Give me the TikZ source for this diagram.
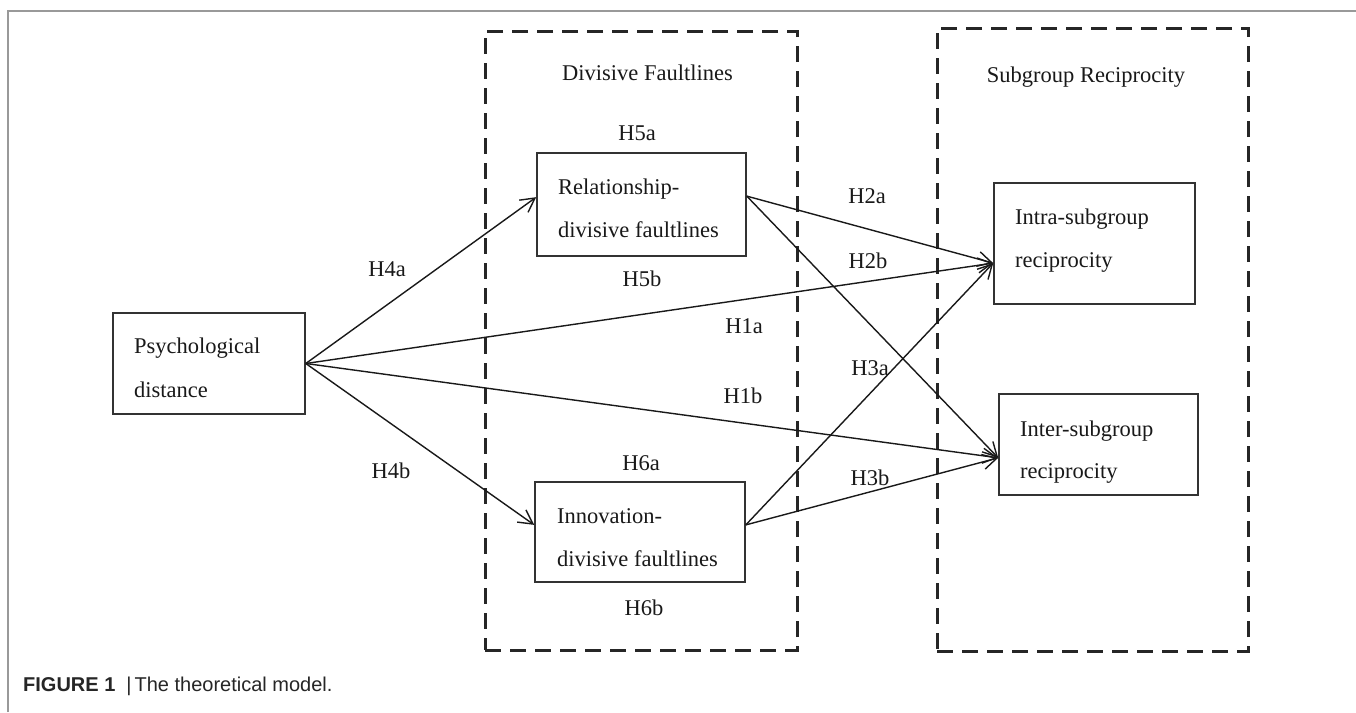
\documentclass[tikz,border=0pt]{standalone}
\usepackage{fontspec}
\setmainfont{Liberation Serif}
\newfontfamily\capfont{Liberation Sans}
\usetikzlibrary{arrows.meta,calc}
\begin{document}
\begin{tikzpicture}[x=1pt,y=-1pt,
 box/.style={draw=black!80, line width=1.6pt, inner sep=0pt},
 grp/.style={draw=black!85, line width=3pt, dash pattern=on 16pt off 9pt, inner sep=0pt},
 txt/.style={anchor=base west, inner sep=0pt, font=\fontsize{22.5}{26}\selectfont, text=black!90},
 lbl/.style={anchor=base, inner sep=0pt, font=\fontsize{22.5}{26}\selectfont, text=black!90},
 link/.style={draw=black!90, line width=1.4pt, -{Straight Barb[length=14pt,width=15pt]}},
]
\useasboundingbox (0,0) rectangle (1356,712);
\fill[white] (0,0) rectangle (1356,712);
\draw[black!40, line width=1.5pt] (8,712) |- (1356,11);

% group frames
\node[grp, minimum width=312pt, minimum height=619pt] (fault) at (641,340.5) {};
\node[grp, minimum width=311pt, minimum height=623pt] (recip) at (1092.5,339.5) {};
\node[lbl] (faulttitle) at (647.5,80) {Divisive Faultlines};
\node[lbl] (reciptitle) at (1086,82) {Subgroup Reciprocity};

% boxes
\node[box, minimum width=192pt, minimum height=101pt] (psych) at (209,363.5) {};
\node[box, minimum width=209pt, minimum height=103pt] (rel) at (641.5,204.5) {};
\node[box, minimum width=210pt, minimum height=100pt] (innov) at (640,532) {};
\node[box, minimum width=201pt, minimum height=121pt] (intra) at (1094.5,243.5) {};
\node[box, minimum width=199pt, minimum height=101pt] (inter) at (1098.5,444.5) {};

% box texts
\node[txt] (psychA) at (134,353) {Psychological};
\node[txt] (psychB) at (134,397) {distance};
\node[txt] (relA) at (558,194) {Relationship-};
\node[txt] (relB) at (558,237) {divisive faultlines};
\node[txt] (innovA) at (557,523) {Innovation-};
\node[txt] (innovB) at (557,566) {divisive faultlines};
\node[txt] (intraA) at (1015,224) {Intra-subgroup};
\node[txt] (intraB) at (1015,267) {reciprocity};
\node[txt] (interA) at (1020,436) {Inter-subgroup};
\node[txt] (interB) at (1020,478) {reciprocity};

% connector ends
\coordinate (relIn) at ($(rel.north west)!0.43!(rel.south west)$);
\coordinate (relOut) at ($(rel.north east)!0.42!(rel.south east)$);
\coordinate (innovIn) at ($(innov.north west)!0.43!(innov.south west)$);
\coordinate (innovOut) at ($(innov.north east)!0.43!(innov.south east)$);
\coordinate (intraIn) at ($(intra.north west)!0.66!(intra.south west)$);
\coordinate (interIn) at ($(inter.north west)!0.63!(inter.south west)$);

% connectors
\draw[link] (psych.east) -- (relIn);
\draw[link] (psych.east) -- (innovIn);
\draw[link] (psych.east) -- (intraIn);
\draw[link] (psych.east) -- (interIn);
\draw[link] (relOut) -- (intraIn);
\draw[link] (relOut) -- (interIn);
\draw[link] (innovOut) -- (intraIn);
\draw[link] (innovOut) -- (interIn);

% hypothesis labels
\node[lbl] (h5a) at (637,140.5) {H5a};
\node[lbl] (h5b) at (642,286) {H5b};
\node[lbl] (h6a) at (641,470) {H6a};
\node[lbl] (h6b) at (644,615) {H6b};
\node[lbl] (h4a) at (387,276) {H4a};
\node[lbl] (h4b) at (391,478) {H4b};
\node[lbl] (h1a) at (744,333) {H1a};
\node[lbl] (h1b) at (743,403) {H1b};
\node[lbl] (h2a) at (867,203) {H2a};
\node[lbl] (h2b) at (868,268) {H2b};
\node[lbl] (h3a) at (870,375) {H3a};
\node[lbl] (h3b) at (870,485) {H3b};

% caption
\node[anchor=base west, inner sep=0pt, font=\capfont\fontsize{20}{24}\selectfont, text=black!85] (caption) at (23,691) {\textbf{FIGURE 1}\hspace{11pt}|\hspace{3pt}The theoretical model.};
\end{tikzpicture}
\end{document}
